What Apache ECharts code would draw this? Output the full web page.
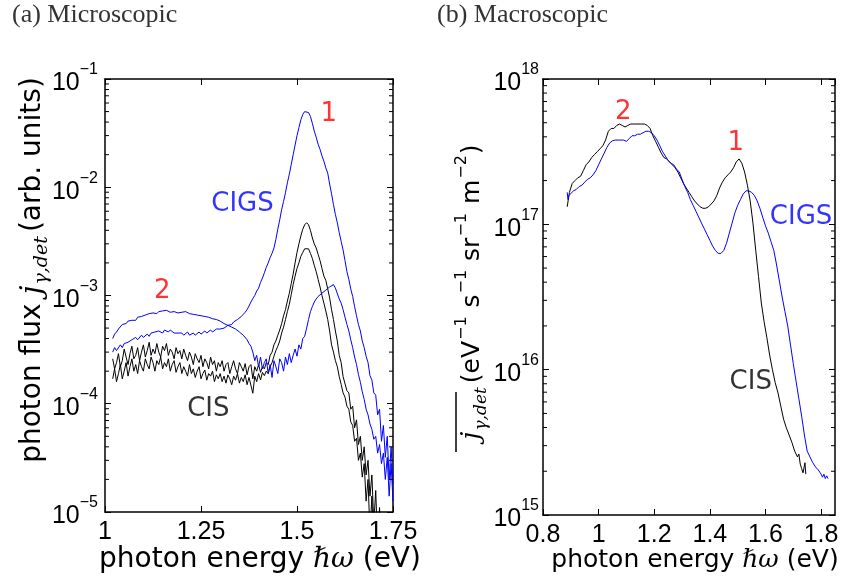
<!DOCTYPE html>
<html>
<head>
<meta charset="utf-8">
<script src="https://cdn.jsdelivr.net/npm/echarts@6/dist/echarts.min.js"></script>
<style>
  html, body { margin: 0; padding: 0; background: #fff; }
  #chart { width: 845px; height: 583px; }
</style>
</head>
<body>
<div id="chart"></div>
<script>
// ---- (a) microscopic spectra: photon energy (eV) and detected flux (arb. units)
const microEnergy = [
  1.02,1.025,1.03,1.035,1.04,1.045,1.05,1.055,1.06,1.065,1.07,1.075,1.08,1.085,1.09,1.095,
  1.1,1.105,1.11,1.115,1.12,1.125,1.13,1.135,1.14,1.145,1.15,1.155,1.16,1.165,1.17,1.175,1.18,1.185,1.19,1.195,
  1.2,1.205,1.21,1.215,1.22,1.225,1.23,1.235,1.24,1.245,1.25,1.255,1.26,1.265,1.27,1.275,1.28,1.285,1.29,1.295,
  1.3,1.305,1.31,1.315,1.32,1.325,1.33,1.335,1.34,1.345,1.35,1.355,1.36,1.365,1.37,1.375,1.38,1.385,1.39,1.395,
  1.4,1.405,1.41,1.415,1.42,1.425,1.43,1.435,1.44,1.445,1.45,1.455,1.46,1.465,1.47,1.475,1.48,1.485,1.49,1.495,
  1.5,1.505,1.51,1.515,1.52,1.525,1.53,1.535,1.54,1.545,1.55,1.555,1.56,1.565,1.57,1.575,1.58,1.585,1.59,1.595,
  1.6,1.605,1.61,1.615,1.62,1.625,1.63,1.635,1.64,1.645,1.65,1.655,1.66,1.665,1.67,1.675,1.68,1.685,1.69,1.695,
  1.7,1.705,1.71,1.715,1.72,1.725,1.73,1.735,1.74,1.745,1.75
];
const microCigsMain = [
  3.0e-4,3.3e-4,3.1e-4,3.2e-4,3.5e-4,3.3e-4,3.6e-4,3.5e-4,3.7e-4,3.6e-4,3.9e-4,3.8e-4,4.1e-4,3.9e-4,4.0e-4,4.3e-4,
  4.1e-4,4.2e-4,4.4e-4,4.2e-4,4.5e-4,4.4e-4,4.6e-4,4.5e-4,4.7e-4,4.6e-4,4.5e-4,4.8e-4,4.7e-4,4.6e-4,4.8e-4,4.7e-4,4.5e-4,4.6e-4,4.5e-4,4.4e-4,
  4.5e-4,4.3e-4,4.4e-4,4.6e-4,4.3e-4,4.4e-4,4.5e-4,4.3e-4,4.4e-4,4.6e-4,4.4e-4,4.5e-4,4.7e-4,4.5e-4,4.6e-4,4.8e-4,4.6e-4,4.7e-4,4.9e-4,4.8e-4,
  4.9e-4,5.1e-4,5.0e-4,5.2e-4,5.3e-4,5.5e-4,5.4e-4,5.7e-4,5.8e-4,6.0e-4,6.2e-4,6.4e-4,6.7e-4,7.0e-4,7.4e-4,8.0e-4,8.7e-4,9.4e-4,1.0e-3,1.1e-3,
  1.17e-3,1.32e-3,1.45e-3,1.62e-3,1.82e-3,2.0e-3,2.24e-3,2.45e-3,2.75e-3,3.3e-3,4.1e-3,5.0e-3,6.2e-3,7.4e-3,8.9e-3,1.1e-2,1.32e-2,1.62e-2,2.0e-2,2.45e-2,
  3.0e-2,3.55e-2,4.2e-2,4.7e-2,5.0e-2,5.1e-2,4.9e-2,4.5e-2,3.9e-2,3.3e-2,2.9e-2,2.5e-2,2.24e-2,1.95e-2,1.74e-2,1.51e-2,1.35e-2,1.07e-2,8.7e-3,6.9e-3,
  5.6e-3,4.7e-3,3.8e-3,3.16e-3,2.63e-3,2.1e-3,1.66e-3,1.41e-3,1.15e-3,9.8e-4,7.9e-4,6.5e-4,5.4e-4,4.7e-4,3.8e-4,3.3e-4,2.75e-4,2.4e-4,1.82e-4,1.66e-4,
  1.26e-4,1.2e-4,7.9e-5,8.9e-5,4.5e-5,6.3e-5,3.2e-5,5.0e-5,2.0e-5,4.0e-5,1.8e-5
];
const microCigsShifted = [
  4.0e-4,4.4e-4,4.6e-4,4.9e-4,5.0e-4,5.4e-4,5.2e-4,5.5e-4,5.8e-4,5.6e-4,5.9e-4,6.1e-4,5.9e-4,6.3e-4,6.2e-4,6.4e-4,
  6.3e-4,6.6e-4,6.4e-4,6.8e-4,6.6e-4,6.9e-4,7.0e-4,6.8e-4,7.1e-4,6.9e-4,7.2e-4,7.0e-4,7.3e-4,7.1e-4,7.0e-4,7.3e-4,7.1e-4,7.2e-4,6.9e-4,7.1e-4,
  7.0e-4,6.8e-4,7.1e-4,6.9e-4,6.8e-4,7.0e-4,6.7e-4,6.8e-4,6.6e-4,6.7e-4,6.5e-4,6.7e-4,6.4e-4,6.5e-4,6.3e-4,6.4e-4,6.1e-4,6.2e-4,6.0e-4,5.9e-4,
  5.8e-4,5.7e-4,5.5e-4,5.6e-4,5.3e-4,5.4e-4,5.1e-4,5.2e-4,4.9e-4,4.8e-4,4.6e-4,4.6e-4,4.3e-4,4.2e-4,3.9e-4,3.6e-4,3.4e-4,3.0e-4,2.5e-4,2.8e-4,
  2.2e-4,2.7e-4,2.1e-4,2.4e-4,2.6e-4,1.9e-4,2.3e-4,1.75e-4,2.5e-4,2.2e-4,1.9e-4,2.6e-4,2.4e-4,2.0e-4,2.7e-4,2.3e-4,2.9e-4,2.4e-4,2.8e-4,3.2e-4,
  2.75e-4,3.5e-4,3.2e-4,4.0e-4,4.2e-4,5.0e-4,6.0e-4,7.1e-4,7.9e-4,8.7e-4,9.3e-4,9.8e-4,1.0e-3,1.05e-3,1.07e-3,1.12e-3,1.15e-3,1.2e-3,1.23e-3,1.26e-3,
  1.17e-3,1.15e-3,9.3e-4,8.5e-4,7.4e-4,6.3e-4,5.4e-4,4.7e-4,3.9e-4,3.3e-4,2.7e-4,2.3e-4,1.86e-4,1.58e-4,1.29e-4,1.1e-4,8.9e-5,7.9e-5,6.5e-5,5.8e-5,
  4.7e-5,5.0e-5,3.5e-5,4.2e-5,2.8e-5,3.5e-5,2.0e-5,3.2e-5,1.4e-5,2.8e-5,1.26e-5
];
const microCisUpper = [
  2.6e-4,2.1e-4,2.4e-4,2.9e-4,2.2e-4,2.5e-4,3.2e-4,2.7e-4,2.3e-4,2.9e-4,3.4e-4,2.6e-4,2.8e-4,3.3e-4,2.5e-4,3.0e-4,
  3.5e-4,2.7e-4,3.1e-4,3.7e-4,2.8e-4,3.2e-4,2.9e-4,3.6e-4,3.0e-4,2.7e-4,3.4e-4,3.1e-4,3.6e-4,2.8e-4,3.2e-4,3.0e-4,2.6e-4,3.3e-4,2.9e-4,3.1e-4,
  2.6e-4,3.2e-4,2.8e-4,2.5e-4,3.0e-4,2.7e-4,2.3e-4,2.9e-4,2.6e-4,2.4e-4,2.8e-4,2.2e-4,2.6e-4,2.4e-4,2.1e-4,2.7e-4,2.3e-4,2.5e-4,2.0e-4,2.4e-4,
  2.2e-4,2.5e-4,2.0e-4,2.3e-4,2.4e-4,1.9e-4,2.2e-4,2.5e-4,2.1e-4,1.9e-4,2.4e-4,2.2e-4,2.0e-4,2.35e-4,1.85e-4,2.2e-4,2.3e-4,1.7e-4,2.2e-4,2.0e-4,
  2.3e-4,1.95e-4,2.2e-4,2.1e-4,2.4e-4,2.3e-4,2.8e-4,3.0e-4,3.5e-4,3.8e-4,4.3e-4,4.8e-4,5.5e-4,6.5e-4,7.4e-4,8.9e-4,1.05e-3,1.29e-3,1.58e-3,2.0e-3,
  2.5e-3,3.0e-3,3.55e-3,4.1e-3,4.5e-3,4.7e-3,4.5e-3,4.0e-3,3.4e-3,3.0e-3,2.75e-3,2.4e-3,2.1e-3,1.78e-3,1.51e-3,1.38e-3,1.15e-3,9.5e-4,7.4e-4,6.0e-4,
  4.7e-4,3.8e-4,2.8e-4,2.4e-4,1.78e-4,1.74e-4,1.32e-4,1.26e-4,8.9e-5,9.5e-5,6.0e-5,7.1e-5,4.2e-5,5.0e-5,3.0e-5,4.0e-5,2.2e-5,3.0e-5,1.4e-5,2.2e-5,
  7.9e-6,1.58e-5,5.0e-6,1.1e-5,4.0e-6,3.5e-6,3.0e-6,2.8e-6,2.5e-6,2.3e-6,2.0e-6
];
const microCisLower = [
  1.7e-4,2.1e-4,1.6e-4,1.9e-4,2.3e-4,1.7e-4,2.0e-4,2.4e-4,1.8e-4,2.2e-4,2.6e-4,2.0e-4,2.3e-4,1.9e-4,2.5e-4,2.2e-4,
  2.0e-4,2.6e-4,2.3e-4,2.1e-4,2.7e-4,2.4e-4,2.0e-4,2.5e-4,2.3e-4,2.7e-4,2.1e-4,2.4e-4,2.2e-4,2.6e-4,2.0e-4,2.3e-4,2.5e-4,1.95e-4,2.2e-4,2.4e-4,
  1.9e-4,2.2e-4,2.0e-4,1.8e-4,2.3e-4,1.9e-4,2.1e-4,1.75e-4,2.0e-4,2.2e-4,1.7e-4,1.9e-4,2.05e-4,1.65e-4,1.9e-4,1.8e-4,2.0e-4,1.6e-4,1.85e-4,1.7e-4,
  1.9e-4,1.6e-4,1.8e-4,1.55e-4,1.85e-4,1.7e-4,1.5e-4,1.8e-4,1.65e-4,1.9e-4,1.55e-4,1.75e-4,1.6e-4,1.85e-4,1.5e-4,1.75e-4,1.7e-4,1.25e-4,1.8e-4,1.6e-4,
  1.9e-4,1.66e-4,1.95e-4,1.82e-4,2.0e-4,1.9e-4,2.2e-4,2.4e-4,2.75e-4,3.1e-4,3.4e-4,3.8e-4,4.5e-4,5.1e-4,6.0e-4,7.1e-4,8.3e-4,1.02e-3,1.26e-3,1.51e-3,
  1.78e-3,2.0e-3,2.3e-3,2.5e-3,2.7e-3,2.8e-3,2.7e-3,2.45e-3,2.2e-3,1.9e-3,1.66e-3,1.41e-3,1.2e-3,1.0e-3,8.5e-4,7.2e-4,6.0e-4,4.7e-4,3.5e-4,3.0e-4,
  2.5e-4,2.2e-4,1.78e-4,1.51e-4,1.26e-4,1.15e-4,9.5e-5,8.9e-5,6.8e-5,6.3e-5,4.5e-5,4.8e-5,3.0e-5,3.5e-5,2.1e-5,2.8e-5,1.26e-5,2.0e-5,6.3e-6,1.4e-5,
  4.0e-6,3.0e-6,2.5e-6,2.2e-6,2.0e-6,1.8e-6,1.6e-6,1.5e-6,1.4e-6,1.3e-6,1.2e-6
];

// ---- (b) macroscopic spectra (eV^-1 s^-1 sr^-1 m^-2)
const macroEnergyCis = [
  0.887,0.895,0.905,0.915,0.925,0.935,0.945,0.955,0.965,0.975,0.985,0.995,
  1.005,1.015,1.025,1.035,1.045,1.055,1.065,1.075,1.085,1.095,
  1.105,1.115,1.125,1.135,1.145,1.155,1.165,1.175,1.185,1.195,
  1.205,1.215,1.225,1.235,1.245,1.255,1.265,1.275,1.285,1.295,
  1.305,1.315,1.325,1.335,1.345,1.355,1.365,1.375,1.385,1.395,
  1.405,1.415,1.425,1.435,1.445,1.455,1.465,1.475,1.485,1.495,
  1.505,1.515,1.525,1.535,1.545,1.555,1.565,1.575,1.585,1.595,
  1.605,1.615,1.625,1.635,1.645,1.655,1.665,1.675,1.685,1.695,
  1.705,1.715,1.72,1.725,1.73,1.735,1.74,1.742,1.745
];
const macroCis = [
  1.32e17,1.66e17,1.91e17,2.00e17,2.09e17,2.14e17,2.34e17,2.57e17,2.69e17,2.88e17,3.02e17,3.16e17,
  3.31e17,3.47e17,3.80e17,4.37e17,4.57e17,4.57e17,4.79e17,4.90e17,4.79e17,4.68e17,
  4.79e17,4.90e17,4.90e17,4.90e17,4.90e17,4.90e17,4.90e17,4.79e17,4.57e17,4.07e17,
  3.72e17,3.39e17,3.09e17,2.88e17,2.82e17,2.69e17,2.57e17,2.45e17,2.29e17,2.09e17,
  1.91e17,1.78e17,1.66e17,1.55e17,1.45e17,1.38e17,1.32e17,1.29e17,1.29e17,1.32e17,
  1.38e17,1.45e17,1.58e17,1.78e17,1.95e17,2.09e17,2.19e17,2.29e17,2.45e17,2.69e17,
  2.82e17,2.63e17,2.29e17,1.86e17,1.45e17,1.02e17,6.61e16,4.37e16,2.88e16,2.14e16,
  1.66e16,1.26e16,1.00e16,8.13e15,6.92e15,5.62e15,4.57e15,3.98e15,3.55e15,3.16e15,
  2.75e15,2.51e15,2.63e15,2.24e15,2.09e15,1.95e15,1.91e15,2.29e15,1.91e15
];
const macroEnergyCigs = [
  0.887,0.89,0.893,
  0.9,0.91,0.92,0.93,0.94,0.95,0.96,0.97,0.98,0.99,
  1.0,1.01,1.02,1.03,1.04,1.05,1.06,1.07,1.08,1.09,
  1.1,1.11,1.12,1.13,1.14,1.15,1.16,1.17,1.18,1.19,
  1.2,1.21,1.22,1.23,1.24,1.25,1.26,1.27,1.28,1.29,
  1.3,1.31,1.32,1.33,1.34,1.35,1.36,1.37,1.38,1.39,
  1.4,1.41,1.42,1.43,1.44,1.45,1.46,1.47,1.48,1.49,
  1.5,1.51,1.52,1.53,1.54,1.55,1.56,1.57,1.58,1.59,
  1.6,1.61,1.62,1.63,1.64,1.65,1.66,1.67,1.68,1.69,
  1.7,1.71,1.72,1.73,1.74,1.75,1.76,1.77,1.78,1.79,
  1.8,1.805,1.81,1.815,1.82,1.825
];
const macroCigs = [
  1.66e17,1.48e17,1.58e17,
  1.62e17,1.70e17,1.74e17,1.82e17,1.86e17,1.95e17,2.04e17,2.09e17,2.19e17,2.34e17,
  2.57e17,2.82e17,3.09e17,3.39e17,3.63e17,3.76e17,3.80e17,3.80e17,3.80e17,3.80e17,
  3.72e17,3.89e17,4.07e17,4.07e17,4.17e17,4.17e17,4.27e17,4.37e17,4.37e17,4.27e17,
  4.07e17,3.80e17,3.47e17,3.16e17,2.95e17,2.75e17,2.63e17,2.57e17,2.40e17,2.29e17,
  2.04e17,1.82e17,1.66e17,1.48e17,1.35e17,1.23e17,1.12e17,1.02e17,9.33e16,8.51e16,
  7.76e16,7.08e16,6.61e16,6.31e16,6.31e16,6.61e16,7.41e16,8.71e16,1.02e17,1.20e17,
  1.35e17,1.48e17,1.62e17,1.70e17,1.70e17,1.66e17,1.58e17,1.45e17,1.29e17,1.12e17,
  9.77e16,8.71e16,7.59e16,6.61e16,5.25e16,4.07e16,3.16e16,2.51e16,2.00e16,1.48e16,
  1.10e16,8.32e15,6.31e15,4.79e15,3.55e15,2.75e15,2.51e15,2.29e15,2.14e15,2.04e15,
  1.91e15,1.82e15,1.91e15,1.78e15,1.86e15,1.78e15
];

// ---- in-plot annotations: [energy, flux, text, colour]
const microNotes = [
  [1.583, 4.7e-2, '1', '#ff0000'],
  [1.358, 6.9e-3, 'CIGS', '#0000ff'],
  [1.149, 1.1e-3, '2', '#ff0000'],
  [1.269, 8.9e-5, 'CIS', '#000000']
];
const macroNotes = [
  [1.089, 5.9e17, '2', '#ff0000'],
  [1.493, 3.6e17, '1', '#ff0000'],
  [1.728, 1.12e17, 'CIGS', '#0000ff'],
  [1.547, 8.2e15, 'CIS', '#000000']
];

// ---- decades spanned by the two logarithmic flux axes
const microDecades = [-5, -4, -3, -2];
const macroDecades = [15, 16, 17];

const BLUE = '#0000ff', BLACK = '#000000';
const SANS = 'DejaVu Sans';
const TICKFONT = 'Liberation Sans';
const MATH = 'DejaVu Serif';

function pairs(xs, ys) { return xs.map((x, i) => [x, ys[i]]); }

// 2..9 x 10^n for every decade: the in-between ticks of a log axis
function logMinorValues(decades) {
  const out = [];
  decades.forEach(n => { for (let k = 2; k <= 9; k++) out.push(k * Math.pow(10, n)); });
  return out;
}

function powerLabel(v) {
  const e = Math.round(Math.log10(v));
  return '{b|10}{s|' + String(e).replace('-', '\u2212') + '}';
}
const powerRich = {
  b: { fontSize: 25, fontFamily: TICKFONT, color: '#000', lineHeight: 34, verticalAlign: 'bottom' },
  s: { fontSize: 16, fontFamily: TICKFONT, color: '#000', lineHeight: 16, verticalAlign: 'top' }
};

const frameLine = { show: true, lineStyle: { color: '#000', width: 1.5 } };
const majorTick = { show: true, inside: true, length: 6, lineStyle: { color: '#000', width: 1 } };

function xAxisPair(grid, min, max, interval, hideMax) {
  return [
    { type: 'value', gridIndex: grid, position: 'bottom', min, max, interval,
      axisLine: frameLine, axisTick: majorTick, splitLine: { show: false },
      axisLabel: { color: '#000', fontSize: 25, fontFamily: TICKFONT, margin: 8,
                   showMaxLabel: !hideMax, showMinLabel: true } },
    { type: 'value', gridIndex: grid, position: 'top', min, max, interval,
      axisLine: frameLine, axisTick: majorTick, splitLine: { show: false },
      axisLabel: { show: false } }
  ];
}
function yAxisPair(grid, min, max, margin) {
  return [
    { type: 'log', logBase: 10, gridIndex: grid, position: 'left', min, max,
      axisLine: frameLine, axisTick: majorTick, splitLine: { show: false },
      axisLabel: { formatter: powerLabel, rich: powerRich, margin } },
    { type: 'log', logBase: 10, gridIndex: grid, position: 'right', min, max,
      axisLine: frameLine, axisTick: majorTick, splitLine: { show: false },
      axisLabel: { show: false } }
  ];
}

function lineSeries(xi, yi, xs, ys, color) {
  return { type: 'line', xAxisIndex: xi, yAxisIndex: yi, data: pairs(xs, ys),
           showSymbol: false, symbol: 'none', clip: true, silent: true,
           lineStyle: { color, width: 1 }, z: 2 };
}
function noteSeries(xi, yi, notes) {
  return { type: 'scatter', xAxisIndex: xi, yAxisIndex: yi, symbolSize: 1, silent: true, z: 5,
           itemStyle: { color: 'rgba(0,0,0,0)' },
           data: notes.map(n => ({ value: [n[0], n[1]],
             label: { show: true, position: 'inside', formatter: n[2], color: n[3],
                      textBorderWidth: 0, textShadowBlur: 0,
                      fontSize: 26, fontFamily: SANS } })) };
}
// short inward ticks on both vertical frame edges, placed through the log scale
function minorTickSeries(xi, yi, xAt, decades) {
  return { type: 'custom', xAxisIndex: xi, yAxisIndex: yi, silent: true, z: 6,
    data: logMinorValues(decades).map(v => [xAt, v]),
    renderItem: (params, api) => {
      const p = api.coord([api.value(0), api.value(1)]);
      const cs = params.coordSys;
      const st = { stroke: '#000', lineWidth: 1 };
      return { type: 'group', children: [
        { type: 'line', shape: { x1: cs.x, y1: p[1], x2: cs.x + 4, y2: p[1] }, style: st },
        { type: 'line', shape: { x1: cs.x + cs.width - 4, y1: p[1], x2: cs.x + cs.width, y2: p[1] }, style: st }
      ] };
    } };
}

const chart = echarts.init(document.getElementById('chart'), null, { renderer: 'canvas' });

chart.setOption({
  animation: false,
  backgroundColor: '#ffffff',
  grid: [
    { left: 105, top: 79, width: 288, height: 433 },
    { left: 543, top: 79, width: 292, height: 436 }
  ],
  xAxis: [...xAxisPair(0, 1, 1.75, 0.25, false), ...xAxisPair(1, 0.8, 1.85, 0.2, true)],
  yAxis: [...yAxisPair(0, 1e-5, 1e-1, 7), ...yAxisPair(1, 1e15, 1e18, 4)],
  series: [
    lineSeries(0, 0, microEnergy, microCisLower, BLACK),
    lineSeries(0, 0, microEnergy, microCisUpper, BLACK),
    lineSeries(0, 0, microEnergy, microCigsShifted, BLUE),
    lineSeries(0, 0, microEnergy, microCigsMain, BLUE),
    noteSeries(0, 0, microNotes),
    minorTickSeries(0, 0, 1.2, microDecades),
    lineSeries(2, 2, macroEnergyCis, macroCis, BLACK),
    lineSeries(2, 2, macroEnergyCigs, macroCigs, BLUE),
    noteSeries(2, 2, macroNotes),
    minorTickSeries(2, 2, 1.2, macroDecades)
  ],
  graphic: [
    { type: 'text', left: 12, top: 2, style: { text: '(a) Microscopic', font: '26px "Liberation Serif"', fill: '#333' } },
    { type: 'text', left: 437, top: 2, style: { text: '(b) Macroscopic', font: '26px "Liberation Serif"', fill: '#333' } },
    // x-axis titles
    { type: 'text', x: 260, y: 560, style: {
        text: '{n|photon energy }{m|\u210F\u03C9}{n| (eV)}', align: 'center', verticalAlign: 'middle',
        rich: { n: { fontSize: 28, fontFamily: SANS, fill: '#000' },
                m: { fontSize: 28, fontFamily: MATH, fontStyle: 'italic', fill: '#000' } } } },
    { type: 'text', x: 695, y: 560, style: {
        text: '{n|photon energy }{m|\u210F\u03C9}{n| (eV)}', align: 'center', verticalAlign: 'middle',
        rich: { n: { fontSize: 25, fontFamily: SANS, fill: '#000' },
                m: { fontSize: 25, fontFamily: MATH, fontStyle: 'italic', fill: '#000' } } } },
    // y-axis title of (a)
    { type: 'text', x: 33, y: 270, rotation: Math.PI / 2, style: {
        text: '{n|photon flux }{j|j}{d|\u03B3,det}{n|(arb. units)}', align: 'center', verticalAlign: 'middle',
        rich: { n: { fontSize: 28, fontFamily: SANS, fill: '#000', lineHeight: 38 },
                j: { fontSize: 29, fontFamily: MATH, fontStyle: 'italic', fill: '#000', lineHeight: 38 },
                d: { fontSize: 19, fontFamily: MATH, fontStyle: 'italic', fill: '#000', lineHeight: 22,
                     verticalAlign: 'bottom', padding: [0, 4, 0, 1] } } } },
    // y-axis title of (b), with the bar over the averaged flux symbol
    { type: 'group', x: 472, y: 292, rotation: Math.PI / 2, children: [
      { type: 'text', x: 0, y: 0, style: {
          text: '{j|j}{d|\u03B3,det}{n|(eV}{s|\u22121}{n| s}{s|\u22121}{n| sr}{s|\u22121}{n| m}{s|\u22122}{n|)}',
          align: 'center', verticalAlign: 'middle',
          rich: { n: { fontSize: 25, fontFamily: SANS, fill: '#000', lineHeight: 36 },
                  j: { fontSize: 26, fontFamily: MATH, fontStyle: 'italic', fill: '#000', lineHeight: 36 },
                  d: { fontSize: 17, fontFamily: MATH, fontStyle: 'italic', fill: '#000', lineHeight: 20,
                       verticalAlign: 'bottom', padding: [0, 4, 0, 1] },
                  s: { fontSize: 16, fontFamily: SANS, fill: '#000', lineHeight: 16, verticalAlign: 'top',
                       padding: [0, 1, 0, 1] } } } },
      { type: 'line', shape: { x1: -160, y1: -16, x2: -100, y2: -16 }, style: { stroke: '#000', lineWidth: 1.5 } }
    ] }
  ]
});
</script>
</body>
</html>
